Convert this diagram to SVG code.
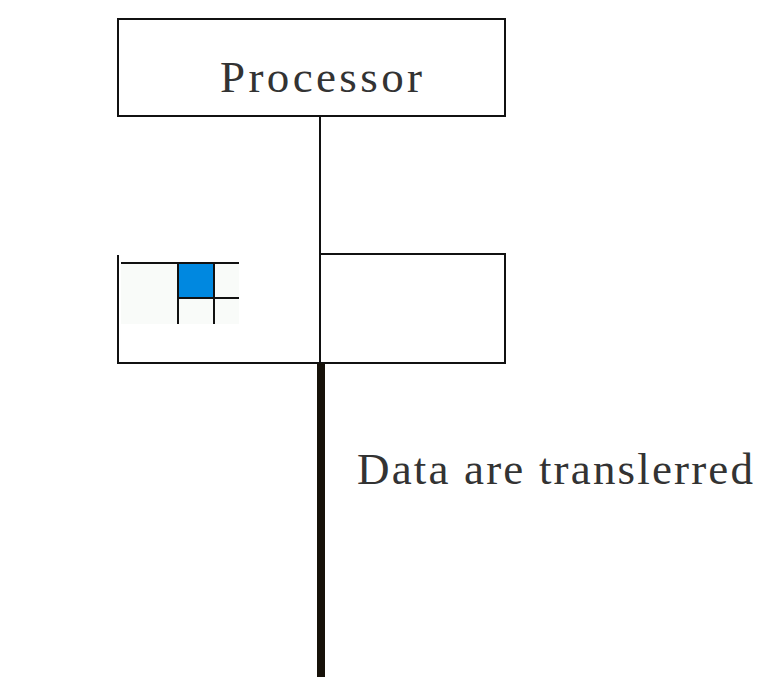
<svg xmlns="http://www.w3.org/2000/svg" width="759" height="677" viewBox="0 0 759 677">
  <style>
    .box { fill: none; stroke: #111; stroke-width: 2; }
    .ln { stroke: #111; stroke-width: 2; fill: none; }
    .lbl { font-family: "Liberation Serif", "Times New Roman", serif; font-size: 45px; fill: #333; }
  </style>
  <rect width="759" height="677" fill="#fff"/>
  <g id="processor">
    <rect class="box" x="118" y="19" width="387" height="97"/>
    <text class="lbl" x="220" y="92" textLength="202" lengthAdjust="spacing">Processor</text>
  </g>
  <g id="cache">
    <path class="ln" d="M118 255 V363 H505 V254 H320"/>
  </g>
  <g id="icon">
    <rect x="121" y="263" width="118" height="61" fill="#f9fbf9"/>
    <rect x="178" y="263" width="36" height="35" fill="#0088e0"/>
    <path class="ln" d="M121 263 H239 M178 263 V324 M214 263 V324 M178 298 H239"/>
  </g>
  <g id="connectors">
    <line class="ln" x1="320" y1="116" x2="320" y2="363"/>
    <line x1="321" y1="363" x2="321" y2="677" stroke="#161109" stroke-width="8"/>
  </g>
  <g id="label">
    <text class="lbl" x="357" y="484" font-size="44" textLength="396" lengthAdjust="spacing">Data are translerred</text>
  </g>
</svg>
